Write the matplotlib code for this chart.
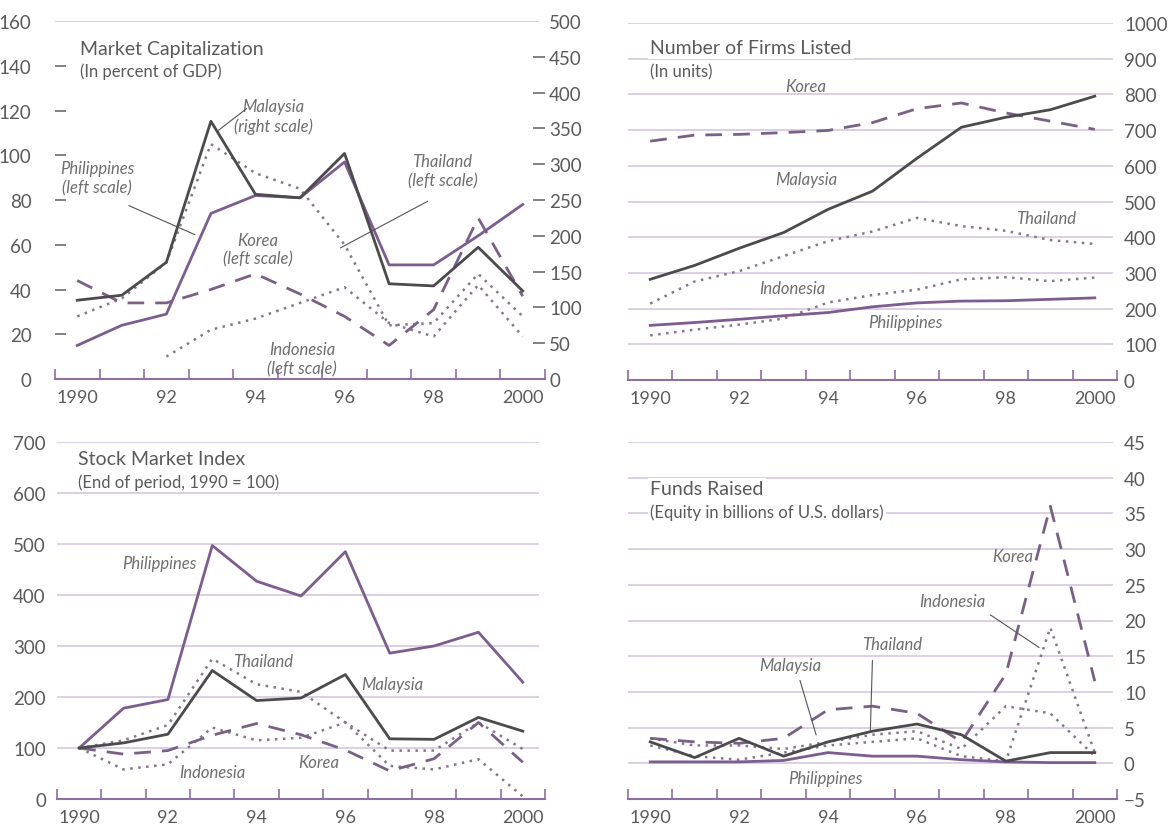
"""
Four-panel chart: equity market development in five Asian economies, 1990-2000.
"""
import numpy as np
import matplotlib
matplotlib.use("Agg")
import matplotlib.pyplot as plt

plt.rcParams["font.family"] = ["Lato", "DejaVu Sans"]

years = np.arange(1990, 2001)
year_ticks = [1990, 1992, 1994, 1996, 1998, 2000]
year_labels = ["1990", "92", "94", "96", "98", "2000"]

# Market capitalization (percent of GDP); Malaysia on right scale
mc_malaysia = [110, 117, 163, 360, 258, 253, 315, 133, 130, 184, 123]
mc_philippines = [15, 24, 29, 74, 82, 81, 97, 51, 51, 64, 78]
mc_korea = [44, 34, 34, 40, 47, 38, 28, 15, 31, 72, 37]
mc_thailand = [28, 36, 52, 105, 92, 85, 60, 24, 25, 47, 28]
mc_indonesia = [np.nan, np.nan, 10, 22, 27, 34, 41, 25, 19, 42, 19]

# Number of firms listed
nf_korea = [669, 686, 688, 693, 699, 721, 760, 776, 748, 725, 702]
nf_malaysia = [282, 321, 369, 413, 478, 529, 621, 708, 736, 757, 795]
nf_thailand = [214, 276, 305, 347, 389, 416, 454, 431, 418, 392, 381]
nf_indonesia = [125, 141, 155, 172, 217, 238, 253, 282, 288, 277, 287]
nf_philippines = [153, 161, 170, 180, 189, 205, 216, 221, 222, 226, 230]

# Stock market index (1990 = 100)
si_philippines = [100, 178, 195, 497, 427, 398, 485, 286, 300, 327, 229]
si_malaysia = [100, 110, 127, 252, 193, 198, 244, 118, 117, 160, 133]
si_thailand = [100, 115, 145, 275, 225, 210, 150, 95, 95, 150, 98]
si_indonesia = [100, 58, 68, 140, 115, 120, 150, 65, 58, 78, 5]
si_korea = [100, 88, 95, 125, 148, 126, 96, 55, 79, 150, 72]

# Funds raised (equity, billions of US dollars)
fr_korea = [3.5, 3.0, 2.8, 3.5, 7.5, 8.0, 7.0, 3.0, 12.5, 36.0, 11.5]
fr_indonesia = [2.5, 1.0, 0.5, 1.5, 2.5, 3.0, 3.5, 1.0, 0.3, 19.0, 1.5]
fr_thailand = [3.5, 2.5, 2.5, 2.0, 3.0, 4.0, 4.5, 2.0, 8.0, 7.0, 1.0]
fr_malaysia = [3.0, 0.8, 3.5, 1.0, 3.0, 4.5, 5.5, 4.0, 0.3, 1.5, 1.5]
fr_philippines = [0.2, 0.2, 0.2, 0.4, 1.5, 1.0, 1.0, 0.5, 0.2, 0.1, 0.1]

PURPLE = "#7d5c91"
DARK = "#4b4b4b"
KOREA = "#7a6086"
DOT = "#85768c"
GRID = "#d8cce2"
AXIS = "#8c70a0"
TEXT = "#5a5a5a"
NOTE = "#6e6e6e"

W, H = 1168, 828
fig = plt.figure(figsize=(W / 100, H / 100), dpi=100)


def px_rect(x0, x1, ytop, ybot):
    return [x0 / W, 1 - ybot / H, (x1 - x0) / W, (ybot - ytop) / H]


def draw_series(ax, mal, phi, kor, tha, ind):
    ax.plot(years, tha, color=DOT, lw=1.8, ls=(0, (1, 2.2)))
    ax.plot(years, ind, color=DOT, lw=1.8, ls=(0, (1, 2.2)))
    ax.plot(years, kor, color=KOREA, lw=2.0, ls=(0, (6, 4)))
    ax.plot(years, phi, color=PURPLE, lw=2.0)
    if mal is not None:
        ax.plot(years, mal, color=DARK, lw=2.0)


def style_x(ax):
    for s in ["top", "left", "right"]:
        ax.spines[s].set_visible(False)
    ax.spines["bottom"].set_color(AXIS)
    ax.spines["bottom"].set_linewidth(1.5)
    ax.set_xlim(1989.5, 2000.5)
    ax.set_xticks(year_ticks)
    ax.set_xticklabels(year_labels)
    ax.set_xticks(np.arange(1989.5, 2001, 1.0), minor=True)
    ax.tick_params(axis="x", which="major", length=0, pad=7, labelsize=13, labelcolor=TEXT)
    ax.tick_params(axis="x", which="minor", direction="in", length=7, width=1.2, color=AXIS)


def note(ax, text, x, y, **kw):
    ax.text(x, y, text, ha="center", va="center", style="italic",
            fontsize=12, color=NOTE, linespacing=1.25, **kw)


def leader(ax, x0, y0, x1, y1):
    ax.annotate("", xy=(x1, y1), xytext=(x0, y0),
                arrowprops=dict(arrowstyle="-", color="#555555", lw=0.8))


def titles(x, y, main, sub, box=False):
    kw = dict(bbox=dict(facecolor="white", edgecolor="none", pad=1.5)) if box else {}
    fig.text(x / W, 1 - y / H, main, fontsize=14, color=TEXT, va="center", **kw)
    fig.text(x / W, 1 - (y + 23) / H, sub, fontsize=12, color=TEXT, va="center", **kw)


# ------------------------------------------------------------------ #
# Panel 1: market capitalization
# ------------------------------------------------------------------ #
ax1 = fig.add_axes(px_rect(55, 545, 22, 380))
ax1r = ax1.twinx()
draw_series(ax1, None, mc_philippines, mc_korea, mc_thailand, mc_indonesia)
ax1r.plot(years, mc_malaysia, color=DARK, lw=2.0)
style_x(ax1)
ax1.set_ylim(0, 160)
ax1r.set_ylim(0, 500)
ax1.axhline(160, color=GRID, lw=1.3, xmax=0.985)
# labels on major ticks, the short dashes on minor ticks (not at 0 / top)
ax1.yaxis.remove_overlapping_locs = False
ax1r.yaxis.remove_overlapping_locs = False
ax1.set_yticks(np.arange(0, 161, 20))
ax1.set_yticks(np.arange(20, 141, 20), minor=True)
ax1.tick_params(axis="y", which="major", length=0, pad=17, labelsize=13.5, labelcolor=TEXT)
ax1.tick_params(axis="y", which="minor", direction="in", length=8, width=1.3, color="#777777")
ax1r.set_yticks(np.arange(0, 501, 50))
ax1r.set_yticks(np.arange(50, 451, 50), minor=True)
ax1r.tick_params(axis="y", which="major", length=0, pad=3, labelsize=13.5, labelcolor=TEXT)
ax1r.tick_params(axis="y", which="minor", direction="in", length=9, width=1.3, color="#777777")
for s in ["top", "left", "right", "bottom"]:
    ax1r.spines[s].set_visible(False)
titles(80, 49, "Market Capitalization", "(In percent of GDP)")
note(ax1r, "Malaysia\n(right scale)", 1994.4, 367)
leader(ax1r, 1993.12, 345, 1993.85, 380)
note(ax1, "Philippines\n(left scale)", 1990.45, 90)
leader(ax1, 1991.1, 78, 1992.7, 64)
note(ax1, "Korea\n(left scale)", 1994.05, 58)
note(ax1, "Thailand\n(left scale)", 1998.2, 93)
leader(ax1, 1997.92, 80, 1995.85, 58)
note(ax1, "Indonesia\n(left scale)", 1995.05, 9)

# ------------------------------------------------------------------ #
# Panel 2: number of firms listed
# ------------------------------------------------------------------ #
ax2 = fig.add_axes(px_rect(628, 1117, 24, 381))
for v in range(100, 1001, 100):
    ax2.axhline(v, color=GRID, lw=1.3, xmax=0.99, zorder=0)
draw_series(ax2, nf_malaysia, nf_philippines, nf_korea, nf_thailand, nf_indonesia)
style_x(ax2)
ax2.set_ylim(0, 1000)
ax2.yaxis.tick_right()
ax2.set_yticks(np.arange(0, 1001, 100))
ax2.tick_params(axis="y", length=0, pad=5, labelsize=13.5, labelcolor=TEXT)
titles(650, 49, "Number of Firms Listed", "(In units)", box=True)
note(ax2, "Korea", 1993.5, 823)
note(ax2, "Malaysia", 1993.5, 563)
note(ax2, "Thailand", 1998.9, 454)
note(ax2, "Indonesia", 1993.2, 258)
note(ax2, "Philippines", 1995.75, 162)

# ------------------------------------------------------------------ #
# Panel 3: stock market index
# ------------------------------------------------------------------ #
ax3 = fig.add_axes(px_rect(57, 545, 443, 800))
for v in range(100, 701, 100):
    ax3.axhline(v, color=GRID, lw=1.3, xmax=0.985, zorder=0)
draw_series(ax3, si_malaysia, si_philippines, si_korea, si_thailand, si_indonesia)
style_x(ax3)
ax3.set_ylim(0, 700)
ax3.set_yticks(np.arange(0, 701, 100))
ax3.tick_params(axis="y", length=0, pad=8, labelsize=13.5, labelcolor=TEXT)
titles(78, 460, "Stock Market Index", "(End of period, 1990 = 100)")
note(ax3, "Philippines", 1991.8, 463)
note(ax3, "Thailand", 1994.15, 271)
note(ax3, "Malaysia", 1997.05, 225)
note(ax3, "Indonesia", 1993.0, 53)
note(ax3, "Korea", 1995.4, 72)

# ------------------------------------------------------------------ #
# Panel 4: funds raised
# ------------------------------------------------------------------ #
ax4 = fig.add_axes(px_rect(628, 1117, 443, 800))
for v in range(0, 46, 5):
    ax4.axhline(v, color=GRID, lw=1.3, xmax=0.99, zorder=0)
draw_series(ax4, fr_malaysia, fr_philippines, fr_korea, fr_thailand, fr_indonesia)
style_x(ax4)
ax4.set_ylim(-5, 45)
ax4.yaxis.tick_right()
ax4.set_yticks(np.arange(-5, 46, 5))
ax4.tick_params(axis="y", length=0, pad=5, labelsize=13.5, labelcolor=TEXT)
titles(650, 490, "Funds Raised", "(Equity in billions of U.S. dollars)", box=True)
note(ax4, "Korea", 1998.15, 29)
note(ax4, "Indonesia", 1996.8, 22.8)
leader(ax4, 1997.6, 21, 1998.8, 16)
note(ax4, "Malaysia", 1993.15, 13.8)
leader(ax4, 1993.35, 12, 1993.75, 3.6)
note(ax4, "Thailand", 1995.45, 16.7)
leader(ax4, 1995.0, 14.8, 1994.95, 4.2)
note(ax4, "Philippines", 1993.95, -2.0)

fig.savefig("out.png", dpi=100)
